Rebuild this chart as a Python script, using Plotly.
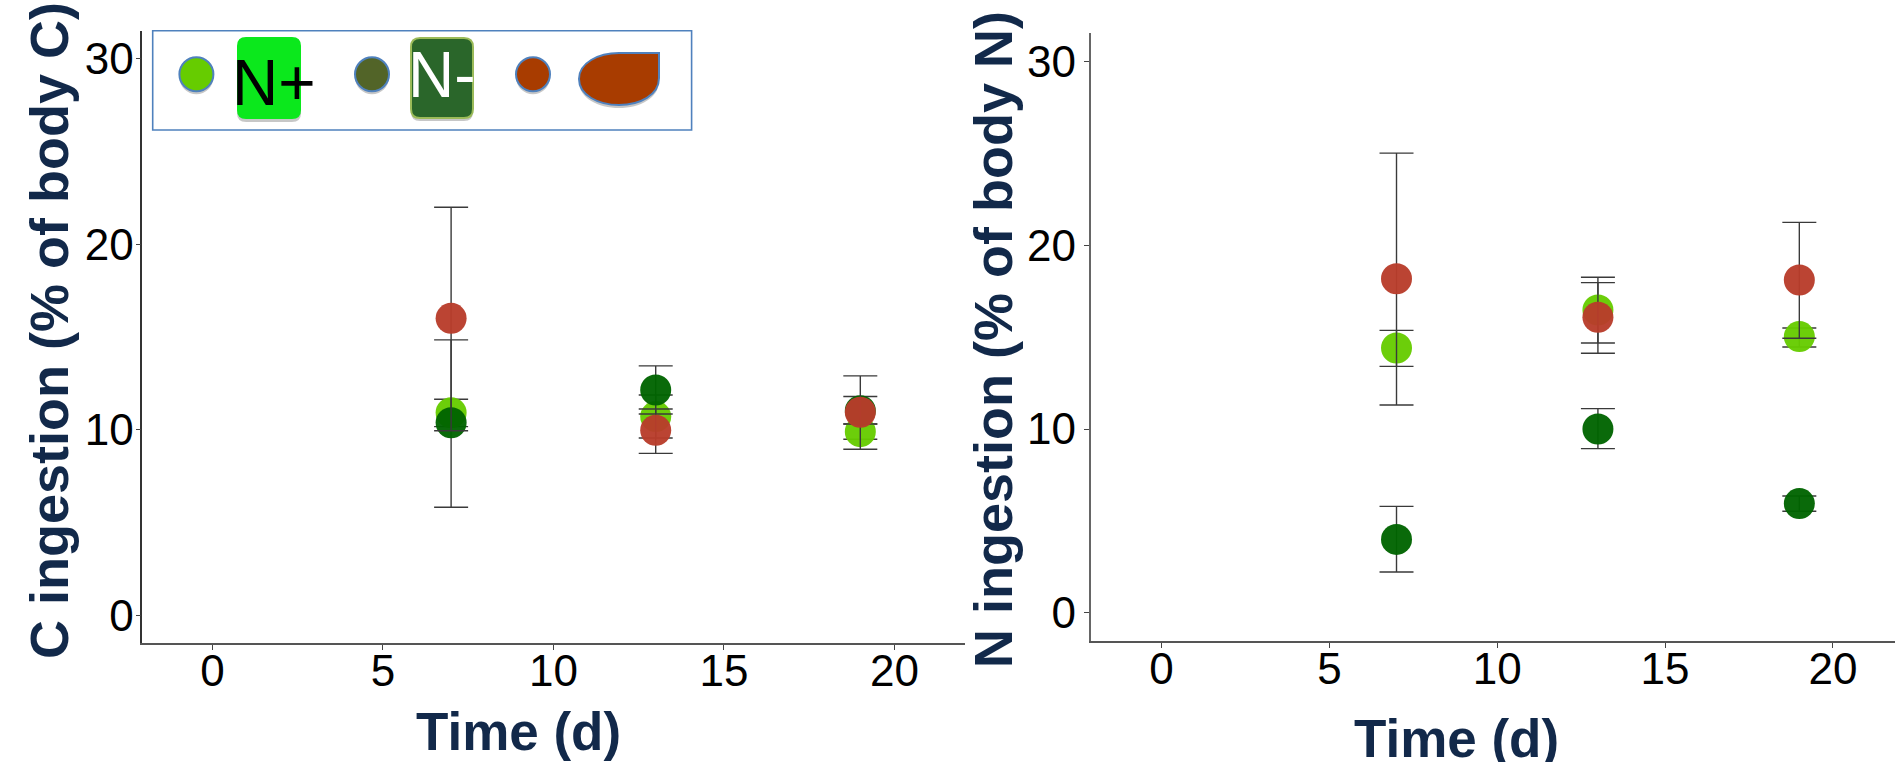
import plotly.graph_objects as go

W, H = 1895, 762
days = [7, 13, 19]
series_names = ["N+", "N-", "Detritus"]
colors = ["#66CC00", "#006400", "#B83C2B"]

c_np = [10.93, 10.72, 9.91]
c_np_hi = [11.65, 11.88, 10.32]
c_np_lo = [10.18, 9.57, 9.50]
c_nm = [10.39, 12.15, 11.04]
c_nm_hi = [14.85, 13.45, 11.80]
c_nm_lo = [5.84, 10.86, 10.32]
c_de = [16.01, 9.98, 10.95]
c_de_hi = [21.99, 11.13, 12.91]
c_de_lo = [9.96, 8.74, 8.96]

n_np = [14.41, 16.48, 15.03]
n_np_hi = [15.37, 18.26, 15.50]
n_np_lo = [13.41, 14.68, 14.46]
n_nm = [3.99, 10.00, 5.94]
n_nm_hi = [5.79, 11.11, 6.35]
n_nm_lo = [2.22, 8.93, 5.52]
n_de = [18.18, 16.08, 18.11]
n_de_hi = [25.02, 17.97, 21.25]
n_de_lo = [11.31, 14.12, 14.94]

x_ticks = [0, 5, 10, 15, 20]
y_ticks = [0, 10, 20, 30]

TITLE = "#12294A"
FONT = "Liberation Sans, Arial, sans-serif"


def px(x):
    return x / W


def py(y):
    return 1 - y / H


fig = go.Figure()


def add_series(xa, ya, vals):
    for name, color, (m, hi, lo) in zip(series_names, colors, vals):
        fig.add_trace(go.Scatter(
            x=days, y=m, mode="markers", name=name, xaxis=xa, yaxis=ya, showlegend=False,
            marker=dict(size=31, color=color, opacity=0.96, line=dict(width=0)),
            error_y=dict(type="data", symmetric=False,
                         array=[h - v for h, v in zip(hi, m)],
                         arrayminus=[v - l for l, v in zip(lo, m)],
                         color="#3a3a3a", thickness=1.4, width=17),
        ))


add_series("x", "y", [(c_np, c_np_hi, c_np_lo), (c_nm, c_nm_hi, c_nm_lo), (c_de, c_de_hi, c_de_lo)])
add_series("x2", "y2", [(n_np, n_np_hi, n_np_lo), (n_nm, n_nm_hi, n_nm_lo), (n_de, n_de_hi, n_de_lo)])

tick_font = dict(family=FONT, size=44, color="black")
common = dict(showgrid=False, zeroline=False, showline=True, ticks="outside", ticklen=5,
              tickwidth=1.3, tickcolor="#444", tickfont=tick_font)

fig.update_layout(
    width=W, height=H, autosize=False, margin=dict(l=0, r=0, t=0, b=0),
    paper_bgcolor="white", plot_bgcolor="white", font=dict(family=FONT),
    xaxis=dict(domain=[px(142.3), px(965)], range=[-2.056, 22.07], anchor="y",
               tickvals=x_ticks, linecolor="#555", linewidth=1.5, ticklabelstandoff=-17, **common),
    yaxis=dict(domain=[py(643.3), py(31.3)], range=[-1.49, 31.47], anchor="x",
               tickvals=y_ticks, linecolor="#333", linewidth=1.5, ticklabelstandoff=-7, **common),
    xaxis2=dict(domain=[px(1090.7), 1], range=[-2.11, 21.85], anchor="y2",
                tickvals=x_ticks, linecolor="#555", linewidth=1.5, ticklabelstandoff=-17, **common),
    yaxis2=dict(domain=[py(641), py(33.3)], range=[-1.54, 31.54], anchor="x2",
                tickvals=y_ticks, linecolor="#666", linewidth=2, ticklabelstandoff=-1, **common),
)


def label(text, x, y, size=53, color=TITLE, bold=True, angle=0):
    t = f"<b>{text}</b>" if bold else text
    fig.add_annotation(text=t, x=px(x), y=py(y), xref="paper", yref="paper", showarrow=False,
                       xanchor="center", yanchor="middle", textangle=angle,
                       font=dict(family=FONT, size=size, color=color))


label("Time (d)", 518, 731)
label("Time (d)", 1456, 738)
label("C ingestion (% of body C)", 49, 331, size=54, angle=-90)
label("N ingestion (% of body N)", 993, 340, size=54, angle=-90)

BLUE = "#4F81BD"
SHADOW = "rgba(0,0,0,0.22)"


def rect(x0, y0, x1, y1, **kw):
    fig.add_shape(type="rect", xref="paper", yref="paper", x0=px(x0), x1=px(x1), y0=py(y0), y1=py(y1), **kw)


def circle(cx, cy, r, fill):
    fig.add_shape(type="circle", xref="paper", yref="paper", x0=px(cx - r), x1=px(cx + r),
                  y0=py(cy + 3 + r), y1=py(cy + 3 - r), fillcolor=SHADOW, line=dict(width=0))
    fig.add_shape(type="circle", xref="paper", yref="paper", x0=px(cx - r), x1=px(cx + r),
                  y0=py(cy + r), y1=py(cy - r), fillcolor=fill, line=dict(color=BLUE, width=2))


def path(points):
    out = ""
    for cmd, *p in points:
        out += cmd
        out += " ".join(f"{px(p[i]):.5f},{py(p[i + 1]):.5f}" for i in range(0, len(p), 2)) + " "
    return out + "Z"


def round_box(x0, y0, x1, y1, r):
    return path([("M", x0 + r, y0), ("L", x1 - r, y0), ("Q", x1, y0, x1, y0 + r), ("L", x1, y1 - r),
                 ("Q", x1, y1, x1 - r, y1), ("L", x0 + r, y1), ("Q", x0, y1, x0, y1 - r),
                 ("L", x0, y0 + r), ("Q", x0, y0, x0 + r, y0)])


def blob(dy):
    return path([("M", 659, 53 + dy), ("L", 659, 78 + dy), ("C", 659, 95 + dy, 640, 105 + dy, 619, 105 + dy),
                 ("C", 598, 105 + dy, 579, 95 + dy, 579, 79 + dy), ("C", 579, 63 + dy, 598, 53 + dy, 619, 53 + dy)])


def shape_path(d, **kw):
    fig.add_shape(type="path", xref="paper", yref="paper", path=d, **kw)


rect(152.7, 30.7, 691.6, 130, line=dict(color=BLUE, width=1.6), fillcolor="white", layer="above")
circle(196.4, 74.3, 17, "#66CC00")
circle(372, 74.3, 17, "#526428")
circle(533, 74.3, 17, "#A83C00")

shape_path(round_box(237, 40, 301, 122, 9), fillcolor=SHADOW, line=dict(width=0))
shape_path(round_box(237, 37, 301, 119, 9), fillcolor="#0BE81C", line=dict(width=0))
shape_path(round_box(411, 41, 473, 121, 9), fillcolor=SHADOW, line=dict(width=0))
shape_path(round_box(411, 38, 473, 118, 9), fillcolor="#2A662A", line=dict(color="#9BBB59", width=2))
shape_path(blob(3), fillcolor=SHADOW, line=dict(width=0))
shape_path(blob(0), fillcolor="#A83C00", line=dict(color=BLUE, width=2))

label("N+", 274, 83, size=64, color="black", bold=False)
label("N-", 442, 75, size=64, color="white", bold=False)

fig.write_html("out.html", config={"displayModeBar": False},
               post_script="document.body.style.margin='0';document.documentElement.style.overflow='hidden';")
